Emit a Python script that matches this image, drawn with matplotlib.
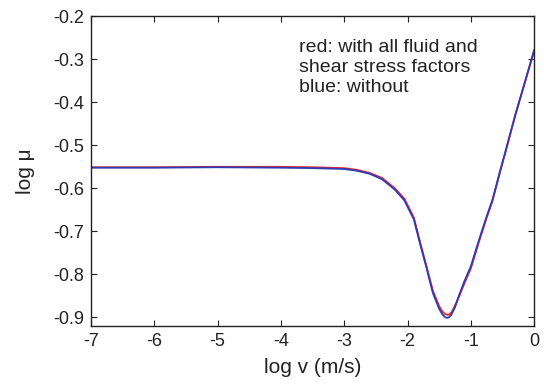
import matplotlib
matplotlib.use("Agg")
import matplotlib.pyplot as plt

plt.rcParams['font.family'] = ['Liberation Sans', 'DejaVu Sans']

# log v (m/s) and log mu
v_blue = [-7, -6, -5, -4, -3.5, -3, -2.8, -2.6, -2.4, -2.2, -2.05, -1.9, -1.8,
          -1.7, -1.6, -1.5, -1.45, -1.41, -1.38, -1.35, -1.31, -1.25, -1.18,
          -1.1, -1.0, -0.87, -0.75, -0.66, -0.525, -0.45, -0.3, -0.15, 0]
mu_blue = [-0.552, -0.552, -0.551, -0.552, -0.553, -0.555, -0.559, -0.566,
           -0.579, -0.603, -0.628, -0.672, -0.730, -0.785, -0.843, -0.880,
           -0.893, -0.899, -0.901, -0.900, -0.894, -0.876, -0.846, -0.815,
           -0.781, -0.719, -0.665, -0.627, -0.552, -0.512, -0.430, -0.355,
           -0.279]

v_red = [-7, -6, -5, -4, -3.5, -3, -2.8, -2.6, -2.4, -2.2, -2.05, -1.9, -1.8,
         -1.7, -1.6, -1.5, -1.45, -1.41, -1.37, -1.34, -1.30, -1.25, -1.18,
         -1.1, -1.0, -0.87, -0.75, -0.66, -0.525, -0.45, -0.3, -0.15, 0]
mu_red = [-0.551, -0.551, -0.550, -0.550, -0.551, -0.553, -0.557, -0.564,
          -0.576, -0.600, -0.624, -0.668, -0.726, -0.781, -0.838, -0.874,
          -0.886, -0.892, -0.894, -0.893, -0.887, -0.872, -0.849, -0.820,
          -0.786, -0.723, -0.668, -0.630, -0.554, -0.514, -0.431, -0.355,
          -0.279]

fig = plt.figure(figsize=(5.44, 3.85), dpi=100)
ax = fig.add_axes([0.167, 0.153, 0.815, 0.805])

ax.plot(v_red, mu_red, color='#e8262a', lw=1.3)
ax.plot(v_blue, mu_blue, color='#2b3cb4', lw=1.3)

ax.set_xlim(-7, 0)
ax.set_ylim(-0.92, -0.2)
ax.set_xticks(range(-7, 1))
ax.set_xticklabels([str(t) for t in range(-7, 1)])
yt = [-0.9, -0.8, -0.7, -0.6, -0.5, -0.4, -0.3, -0.2]
ax.set_yticks(yt)
ax.set_yticklabels([f"{t:.1f}" for t in yt])
ax.tick_params(direction='in', top=True, right=True, length=4, width=0.8,
               labelsize=13, pad=5, colors='#222222')
for s in ax.spines.values():
    s.set_linewidth(1.0)
    s.set_color('#222222')

ax.set_xlabel("log v (m/s)", fontsize=15, labelpad=6, color='#222222')
ax.set_ylabel("log μ", fontsize=15, labelpad=13, color='#222222')

ax.text(-3.72, -0.254, "red: with all fluid and\nshear stress factors\nblue: without",
        ha='left', va='top', fontsize=14, linespacing=1.2, color='#222222')

fig.savefig("out.png", dpi=100)
